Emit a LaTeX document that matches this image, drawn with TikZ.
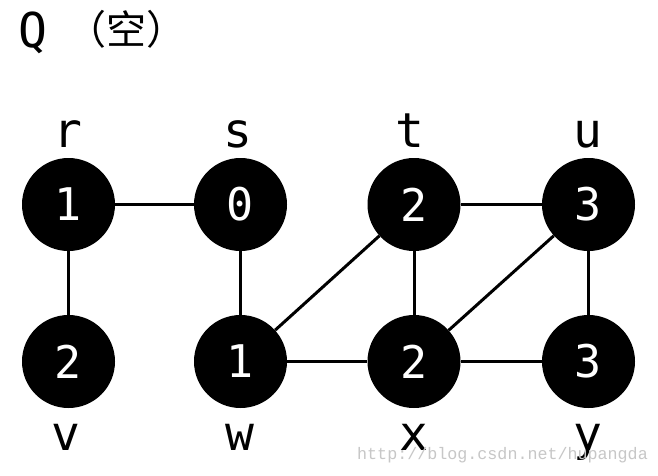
\documentclass[tikz,border=0pt]{standalone}
\usepackage{fontspec}
\setmainfont{DejaVu Sans Mono}
\newfontfamily\cjk{Noto Sans CJK SC}
\newfontfamily\wmfont{Liberation Mono}
\begin{document}
\begin{tikzpicture}[x=1pt,y=-1pt,
  vert/.style={circle, fill=black, minimum size=93pt, inner sep=0pt, text=white, font=\fontsize{45}{45}\selectfont},
  lbl/.style={anchor=base, inner sep=0pt, font=\fontsize{48}{48}\selectfont},
  edge/.style={line width=3pt, black}]
\useasboundingbox (0,0) rectangle (658,475);
\fill[white] (0,0) rectangle (658,475);
% title
\node[anchor=base west, inner sep=0pt, font=\fontsize{48}{48}\selectfont] (q) at (18,47) {Q};
\node[anchor=base west, inner sep=0pt, font=\cjk\fontsize{40}{40}\selectfont] (empty) at (66,44) {（空）};
% vertices
\node[vert] (r) at (68.5,204.5) {1};
\node[vert] (s) at (240.5,204.5) {0};
\node[vert] (t) at (414,204.5) {2};
\node[vert] (u) at (588.5,204.5) {3};
\node[vert] (v) at (68.5,361.5) {2};
\node[vert] (w) at (240.5,361.5) {1};
\node[vert] (x) at (414,361.5) {2};
\node[vert] (y) at (588.5,361.5) {3};
% labels
\node[lbl] (lr) at (68,147) {r};
\node[lbl] (ls) at (238,147) {s};
\node[lbl] (lt) at (410,147) {t};
\node[lbl] (lu) at (588,147) {u};
\node[lbl] (lv) at (66,450) {v};
\node[lbl] (lw) at (240,450) {w};
\node[lbl] (lx) at (414,450) {x};
\node[lbl] (ly) at (588,450) {y};
% edges
\draw[edge] (r) -- (s);
\draw[edge] (r) -- (v);
\draw[edge] (s) -- (w);
\draw[edge] (w) -- (t);
\draw[edge] (w) -- (x);
\draw[edge] (t) -- (x);
\draw[edge] (t) -- (u);
\draw[edge] (x) -- (u);
\draw[edge] (u) -- (y);
\draw[edge] (x) -- (y);
% watermark
\node[anchor=base west, inner sep=0pt, text=black!22, font=\wmfont\fontsize{16.7}{16.7}\selectfont] (wm) at (357,459) {http://blog.csdn.net/hupangda};
\end{tikzpicture}
\end{document}
